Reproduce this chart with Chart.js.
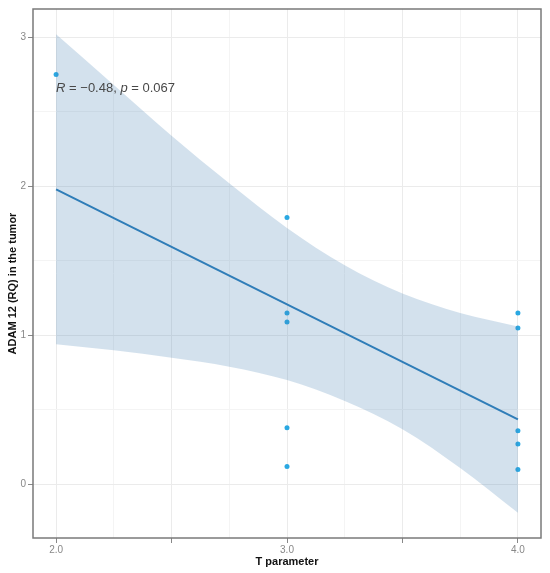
<!DOCTYPE html>
<html>
<head>
<meta charset="utf-8">
<script src="https://cdn.jsdelivr.net/npm/chart.js@4/dist/chart.umd.min.js"></script>
<style>
  html, body { margin: 0; padding: 0; background: #fff; }
  #wrap { width: 550px; height: 573px; }
</style>
</head>
<body>
<div id="wrap"><canvas id="chart"></canvas></div>
<script>
// T parameter groups and measured ADAM 12 values
const tValues   = [2, 3, 3, 3, 3, 3, 4, 4, 4, 4, 4];
const adamRQ    = [2.75, 1.79, 1.15, 1.09, 0.38, 0.12, 1.15, 1.05, 0.36, 0.27, 0.10];

// fitted line ends
const fitX = [2, 4];
const fitY = [1.98, 0.436];

// confidence band
const bandX     = [2, 2.25, 2.5, 2.75, 3, 3.25, 3.5, 3.75, 4];
const bandUpper = [3.02, 2.68, 2.34, 2.02, 1.72, 1.47, 1.28, 1.15, 1.06];
const bandLower = [0.94, 0.90, 0.85, 0.79, 0.70, 0.56, 0.37, 0.11, -0.19];

const xTicks = [2, 2.25, 2.5, 2.75, 3, 3.25, 3.5, 3.75, 4];
const xLabels = { 2: '2.0', 3: '3.0', 4: '4.0' };
const yTicks = [0, 0.5, 1, 1.5, 2, 2.5, 3];

const pts = (xs, ys) => xs.map((x, i) => ({ x: x, y: ys[i] }));

// panel border, y title and R / p annotation
const panelPlugin = {
  id: 'panel',
  afterDatasetsDraw(chart) {
    const { ctx, chartArea, scales } = chart;
    ctx.save();
    ctx.strokeStyle = '#7a7a7a';
    ctx.lineWidth = 1.5;
    ctx.strokeRect(chartArea.left, chartArea.top, chartArea.right - chartArea.left, chartArea.bottom - chartArea.top);

    // y title sits a little below the panel centre in the original
    ctx.save();
    ctx.translate(13, (chartArea.top + chartArea.bottom) / 2 + 10);
    ctx.rotate(-Math.PI / 2);
    ctx.font = 'bold 11px "Liberation Sans", Arial';
    ctx.fillStyle = '#111';
    ctx.textAlign = 'center';
    ctx.textBaseline = 'middle';
    ctx.fillText('ADAM 12 (RQ) in the tumor', 0, 0);
    ctx.restore();

    let x = scales.x.getPixelForValue(2);
    const y = scales.y.getPixelForValue(2.63);
    ctx.fillStyle = '#484848';
    ctx.textBaseline = 'alphabetic';
    const parts = [
      ['italic 13px "Liberation Sans", Arial', 'R'],
      ['13px "Liberation Sans", Arial', ' = \u22120.48, '],
      ['italic 13px "Liberation Sans", Arial', 'p'],
      ['13px "Liberation Sans", Arial', ' = 0.067']
    ];
    parts.forEach(([font, txt]) => {
      ctx.font = font;
      ctx.fillText(txt, x, y);
      x += ctx.measureText(txt).width;
    });
    ctx.restore();
  }
};

new Chart(document.getElementById('chart'), {
  type: 'scatter',
  data: {
    datasets: [
      {
        data: pts(tValues, adamRQ),
        backgroundColor: '#2aa8e2',
        borderWidth: 0,
        pointRadius: 2.5,
        order: 4
      },
      {
        data: pts(bandX, bandUpper),
        showLine: true,
        borderWidth: 0,
        pointRadius: 0,
        cubicInterpolationMode: 'monotone',
        backgroundColor: 'rgba(70,130,180,0.24)',
        fill: '+1',
        order: 3
      },
      {
        data: pts(bandX, bandLower),
        showLine: true,
        borderWidth: 0,
        pointRadius: 0,
        cubicInterpolationMode: 'monotone',
        fill: false,
        order: 2
      },
      {
        data: pts(fitX, fitY),
        showLine: true,
        borderColor: '#2f7db8',
        borderWidth: 2,
        pointRadius: 0,
        fill: false,
        order: 1
      }
    ]
  },
  options: {
    responsive: true,
    maintainAspectRatio: false,
    animation: false,
    layout: { padding: { top: 9, right: 9, left: 0, bottom: 0 } },
    plugins: {
      legend: { display: false },
      tooltip: { enabled: false }
    },
    scales: {
      x: {
        type: 'linear',
        min: 1.9,
        max: 4.1,
        afterBuildTicks: (s) => { s.ticks = xTicks.map(v => ({ value: v })); },
        afterFit: (s) => { s.height = 35; },
        border: { display: false },
        grid: {
          color: (c) => (c.tick && c.tick.value * 2 % 1 === 0) ? '#ebebeb' : '#f4f4f4',
          tickColor: (c) => (c.tick && c.tick.value * 2 % 1 === 0) ? '#888' : 'rgba(0,0,0,0)',
          tickLength: 5
        },
        ticks: {
          autoSkip: false,
          maxRotation: 0,
          padding: 1,
          color: '#888',
          font: { size: 10, family: '"Liberation Sans", Arial' },
          callback: (v) => xLabels[v] || ''
        },
        title: {
          display: true,
          text: 'T parameter',
          color: '#111',
          font: { size: 11, weight: 'bold', family: '"Liberation Sans", Arial' },
          padding: { top: 0, bottom: 4 }
        }
      },
      y: {
        type: 'linear',
        min: -0.36,
        max: 3.19,
        afterBuildTicks: (s) => { s.ticks = yTicks.map(v => ({ value: v })); },
        afterFit: (s) => { s.width = 33; },
        border: { display: false },
        grid: {
          color: (c) => (c.tick && c.tick.value % 1 === 0) ? '#ebebeb' : '#f4f4f4',
          tickColor: (c) => (c.tick && c.tick.value % 1 === 0) ? '#888' : 'rgba(0,0,0,0)',
          tickLength: 5
        },
        ticks: {
          autoSkip: false,
          padding: 2,
          color: '#888',
          font: { size: 10, family: '"Liberation Sans", Arial' },
          callback: (v) => (v % 1 === 0 ? String(v) : '')
        }
      }
    }
  },
  plugins: [panelPlugin]
});
</script>
</body>
</html>
